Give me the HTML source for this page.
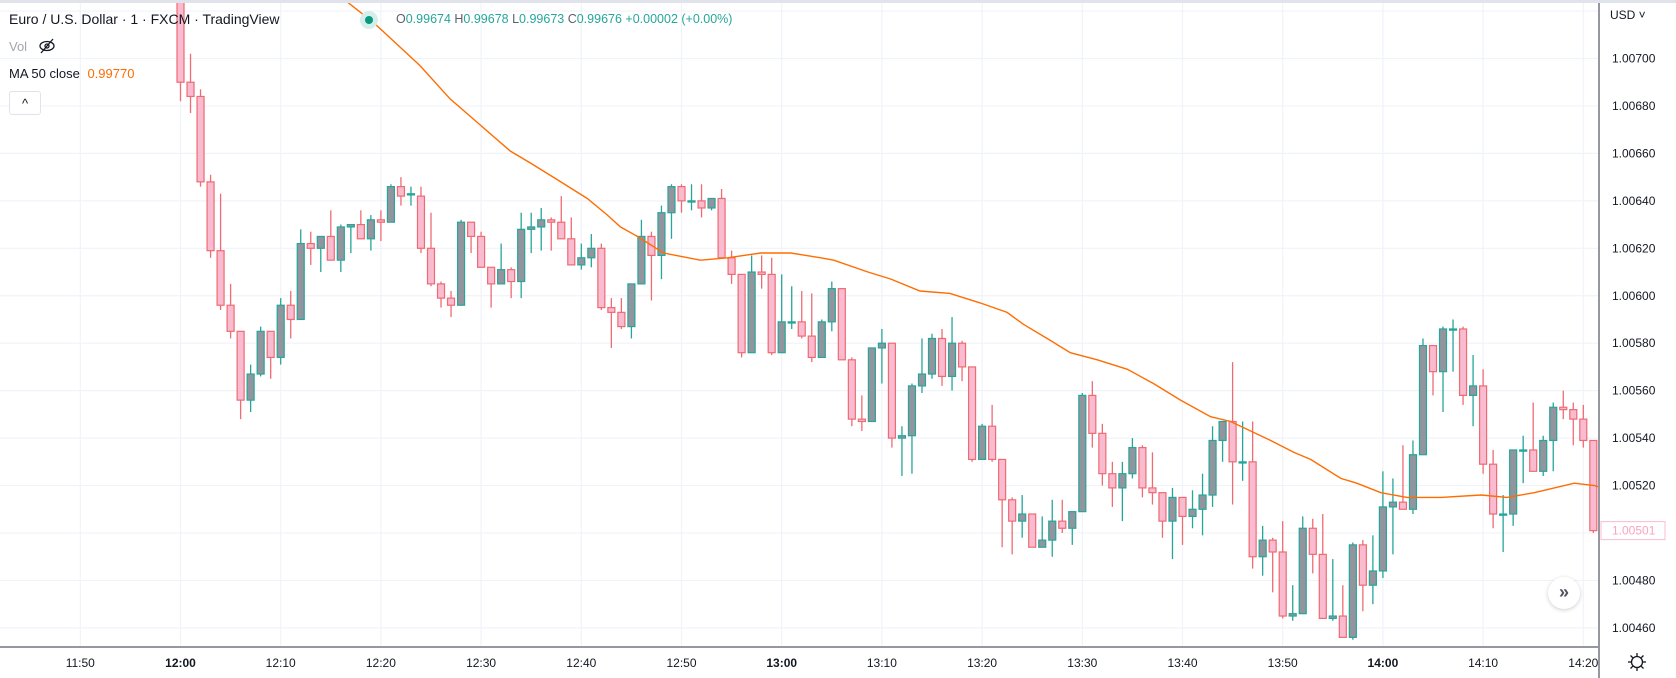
<!DOCTYPE html>
<html><head><meta charset="utf-8"><style>
html,body{margin:0;padding:0;background:#fff;width:1676px;height:678px;overflow:hidden;font-family:"Liberation Sans",sans-serif;}
svg{position:absolute;left:0;top:0}
.leg{position:absolute;left:9px;color:#131722;white-space:nowrap}
</style></head><body>
<svg id="chart" width="1676" height="678" xmlns="http://www.w3.org/2000/svg">
<rect x="0" y="0" width="1676" height="678" fill="#fff"/>
<rect x="0" y="0" width="1676" height="3" fill="#e0e3eb"/>
<g id="grid"></g>
<g id="plot" clip-path="url(#clip)"></g>
<defs><clipPath id="clip"><rect x="0" y="3" width="1599" height="644"/></clipPath></defs>
<g id="axes"></g>
</svg>

<div class="leg" style="top:11px;font-size:14px;">Euro / U.S. Dollar · 1 · FXCM · TradingView</div>
<div style="position:absolute;left:360px;top:11px;width:18px;height:18px;border-radius:50%;background:#d5eeea"></div>
<div style="position:absolute;left:365px;top:16px;width:8px;height:8px;border-radius:50%;background:#089981"></div>
<div class="leg" style="left:396px;top:12px;font-size:12.5px;color:#5d606b">O<span style="color:#26a69a">0.99674</span> H<span style="color:#26a69a">0.99678</span> L<span style="color:#26a69a">0.99673</span> C<span style="color:#26a69a">0.99676</span> <span style="color:#26a69a">+0.00002 (+0.00%)</span></div>
<div class="leg" style="top:39px;font-size:13px;color:#a3a6af">Vol</div>
<svg style="left:38px;top:38px" width="18" height="16"><ellipse cx="9" cy="8" rx="7" ry="4.5" fill="none" stroke="#131722" stroke-width="1.3"/><circle cx="9" cy="8" r="2" fill="none" stroke="#131722" stroke-width="1.3"/><line x1="3" y1="15" x2="15" y2="1" stroke="#131722" stroke-width="1.3"/></svg>
<div class="leg" style="top:66px;font-size:13px;">MA 50 close <span style="color:#ff6d00;margin-left:4px">0.99770</span></div>
<div style="position:absolute;left:9px;top:91px;width:30px;height:22px;border:1px solid #e0e3eb;border-radius:3px;background:#fff;text-align:center;font-size:13px;line-height:24px;color:#131722">&#94;</div>
<div style="position:absolute;left:1548px;top:577px;width:32px;height:32px;border-radius:50%;background:#fff;box-shadow:0 1px 4px rgba(0,0,0,0.2);text-align:center;line-height:31px;font-size:18px;font-weight:bold;color:#50535e">»</div>
<div style="position:absolute;left:1610px;top:8px;font-size:12px;color:#131722">USD ˅</div>
<svg style="left:1627px;top:652px" width="20" height="20"><circle cx="10" cy="10" r="5.5" fill="none" stroke="#131722" stroke-width="1.3"/><g stroke="#131722" stroke-width="1.3"><line x1="10" y1="1" x2="10" y2="4"/><line x1="10" y1="16" x2="10" y2="19"/><line x1="1" y1="10" x2="4" y2="10"/><line x1="16" y1="10" x2="19" y2="10"/><line x1="3.5" y1="3.5" x2="5.7" y2="5.7"/><line x1="14.3" y1="14.3" x2="16.5" y2="16.5"/><line x1="3.5" y1="16.5" x2="5.7" y2="14.3"/><line x1="14.3" y1="5.7" x2="16.5" y2="3.5"/></g></svg>

<script>
// price values in 1e-5 units above 1.00000 ; minute index from 12:00
const opens  = [728,690,684,648,619,596,585,556,567,585,574,596,590,622,620,625,615,629,630,624,632,631,646,643,642,620,605,599,596,631,625,612,605,611,606,628,629,632,631,624,613,616,620,595,593,587,605,625,617,635,646,640,640,637,641,616,609,576,610,609,576,589,589,583,574,589,603,573,548,547,578,580,540,541,562,567,582,566,580,570,531,545,531,514,505,508,494,497,505,502,509,558,542,525,519,525,536,519,517,505,515,507,510,516,539,547,530,530,490,497,492,465,466,502,491,464,465,456,495,478,484,511,513,510,533,579,568,586,586,558,562,529,508,508,535,535,526,539,553,552,548,539];
const highs  = [735,702,687,651,643,605,585,571,587,585,599,602,628,627,625,636,630,630,636,634,636,647,650,646,646,635,606,602,632,631,627,612,622,612,635,635,637,633,642,633,622,626,622,599,599,605,632,627,638,647,647,647,647,641,645,619,609,617,617,616,609,604,602,601,590,606,603,574,558,578,586,580,545,563,582,584,586,591,581,570,546,554,531,515,516,508,507,514,514,509,559,564,546,530,530,540,537,534,517,519,507,518,525,545,547,572,547,547,503,498,505,478,507,506,508,489,478,496,497,499,526,523,537,539,582,579,587,590,587,575,569,535,516,535,541,555,541,555,560,555,554,539];
const lows   = [682,677,646,616,594,582,548,551,566,565,571,582,590,613,610,615,610,618,624,619,623,631,638,638,618,604,595,591,596,618,612,595,605,599,599,618,619,619,624,613,611,612,594,578,586,582,605,598,607,624,635,636,633,636,616,605,574,576,603,575,576,586,582,572,574,585,573,545,543,547,563,536,524,525,559,565,562,560,564,530,531,530,494,491,498,494,494,490,500,495,509,536,520,511,505,523,515,512,498,489,495,502,499,511,530,512,522,485,482,475,464,463,466,483,464,463,456,455,467,470,481,491,510,508,533,558,551,568,554,545,525,502,492,503,521,526,524,526,548,537,536,500];
const closes = [690,684,648,619,596,585,556,567,585,574,596,590,622,620,625,615,629,630,624,632,631,646,642,643,620,605,599,596,631,625,612,605,611,606,628,629,632,631,624,613,616,620,595,593,587,605,625,617,635,646,640,640,637,641,616,609,576,610,609,576,589,589,583,574,589,603,573,548,547,578,580,540,541,562,567,582,566,580,570,531,545,531,514,505,508,494,497,505,502,509,558,542,525,519,525,536,519,517,505,515,507,510,516,539,547,530,530,490,497,492,465,466,502,491,464,465,456,495,478,484,511,513,510,533,579,568,586,586,558,562,529,508,508,535,535,526,539,553,552,548,539,501];
const maMinutes = [14,16.6,19.3,23.9,26.9,29.9,32.9,34.9,37.2,40.6,42.6,43.9,45.6,48.2,51.9,54.6,57.9,60.9,63.9,65.2,68.6,70.9,73.8,76.8,79.8,82.5,84.1,86.5,88.8,91.5,94.5,97.1,99.8,102.8,104.8,106.8,108.8,111.1,112.8,115.8,117.4,119.8,122.4,125.8,129.8,132.4,135.1,139.1,141.1,142];
const maValues  = [730,724,715,697,683,672,661,656,650,641,634,629,625,618,615,616,618,618,616,615,610,607,602,601,597,593,588,582,576,573,569,563,556,549,547,543,539,534,531,523,521,517,515,515,516,515,517,521,520,519];
const priceTicks = [460,480,500,520,540,560,580,600,620,640,660,680,700,720];
const timeTicks = ["11:50","12:00","12:10","12:20","12:30","12:40","12:50","13:00","13:10","13:20","13:30","13:40","13:50","14:00","14:10","14:20"];
const timeTickMinutes = [-10,0,10,20,30,40,50,60,70,80,90,100,110,120,130,140];
const lastPriceLabel = "1.00501";

const NS="http://www.w3.org/2000/svg";
const X = m => 180.5 + m*10.02;
const Y = v => 58.5 + (700 - v)*2.3725;
function mk(tag, attrs, parent){const e=document.createElementNS(NS,tag);for(const k in attrs)e.setAttribute(k,attrs[k]);parent.appendChild(e);return e;}
const grid=document.getElementById('grid'), plot=document.getElementById('plot'), axes=document.getElementById('axes');

priceTicks.forEach(v=>{
  const l=mk('line',{x1:0,x2:1599,y1:Y(v),y2:Y(v),stroke:'#f0f3fa','stroke-width':1.2},grid);
  
  
  if(v<=700){
    const t=mk('text',{x:1612,y:Y(v)+4,'font-size':12,fill:'#131722','font-family':'Liberation Sans, sans-serif'},axes);
    t.textContent=(1+v/1e5).toFixed(5);
    
    
  }
});
timeTickMinutes.forEach((m,i)=>{
  const l=mk('line',{x1:X(m),x2:X(m),y1:3,y2:647,stroke:'#f0f3fa','stroke-width':1.2},grid);
  
  
  const bold = timeTicks[i].endsWith(':00');
  const t=mk('text',{x:X(m),y:667,'font-size':12,fill:'#131722','text-anchor':'middle','font-weight':bold?'bold':'normal','font-family':'Liberation Sans, sans-serif'},axes);
  t.textContent=timeTicks[i];
  
  
});

opens.forEach((o,i)=>{
  const c=closes[i], h=highs[i], l=lows[i], x=X(i);
  const up = c>=o;
  const edge = up ? '#26a69a' : '#ef6b73';
  const fill = up ? '#93959e' : '#f8bbd0';
  const w=mk('line',{x1:x,x2:x,y1:Y(h),y2:Y(l),stroke:edge,'stroke-width':1.3},plot);
  
  
  const top=Y(Math.max(o,c)), bot=Y(Math.min(o,c));
  const b=mk('rect',{x:x-3.5,y:top,width:7,height:Math.max(bot-top,1.2),fill:fill,stroke:edge,'stroke-width':1.2},plot);
  
  
});

const pts=maMinutes.map((m,i)=>X(m).toFixed(1)+','+Y(maValues[i]).toFixed(1)).join(' ');
const ma=mk('polyline',{points:pts,fill:'none',stroke:'#ff6d00','stroke-width':1.4},plot);



// axes borders
const ax1=mk('line',{x1:1599,x2:1599,y1:3,y2:678,stroke:'#9598a1','stroke-width':2},axes);


const ax2=mk('line',{x1:0,x2:1600,y1:647,y2:647,stroke:'#9598a1','stroke-width':2},axes);



const lv=closes[closes.length-1];
const lb=mk('rect',{x:1601,y:Y(lv)-9,width:64,height:18,fill:'#fff',stroke:'#f8bbd0','stroke-width':1},axes);


const lt=mk('text',{x:1612,y:Y(lv)+4,'font-size':12,fill:'#f8a5bf','font-family':'Liberation Sans, sans-serif'},axes);
lt.textContent=lastPriceLabel;


</script>
</body></html>
